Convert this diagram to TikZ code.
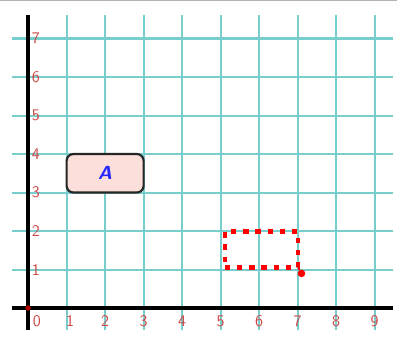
\documentclass[tikz,border=0pt]{standalone}
\begin{document}
\begin{tikzpicture}[
  gridline/.style={draw=gridc, line width=1.5pt},
  axisline/.style={draw=black, line width=2.6pt},
  ticklab/.style={text=labc, font=\sffamily\fontsize{12}{13}\selectfont, inner sep=0pt},
  shapeA/.style={draw=black!85, line width=1.6pt, fill=pinkc, rounded corners=5pt, minimum width=2cm, minimum height=1cm, text=blue!85, font=\sffamily\bfseries\itshape\fontsize{14}{16}\selectfont},
  dotbox/.style={draw=red, line width=3.4pt, dash pattern=on 4pt off 5pt, minimum width=1.9cm, minimum height=0.93cm, inner sep=0pt}
]
\definecolor{gridc}{RGB}{120,205,205}
\definecolor{labc}{RGB}{205,70,70}
\definecolor{pinkc}{RGB}{252,222,218}
\useasboundingbox (-0.73,-0.78) rectangle (9.58,8.0);
\draw[gray!60, line width=1.5pt] (-0.73,7.99) -- (9.58,7.99);
% grid
\foreach \x in {1,...,9} \draw[gridline] (\x,-0.57) -- (\x,7.6);
\foreach \y in {1,...,7} \draw[gridline] (-0.42,\y) -- (9.48,\y);
% axes
\draw[axisline] (-0.42,0) -- (9.48,0);
\draw[axisline] (0,-0.57) -- (0,7.6);
\fill[red!70!black] (0,0) circle (2pt);
% labels
\node[ticklab] (x0) at (0.23,-0.34) {0};
\node[ticklab] (x1) at (1.09,-0.34) {1};
\foreach \x in {2,...,9} \node[ticklab] (x\x) at (\x,-0.34) {\x};
\foreach \y in {1,...,7} \node[ticklab] (y\y) at (0.2,\y) {\y};
% shapes
\node[shapeA] (A) at (2,3.5) {A};
\node[dotbox] (B) at (6.06,1.52) {};
\fill[red] (7.1,0.9) circle (2.8pt);
\end{tikzpicture}
\end{document}
